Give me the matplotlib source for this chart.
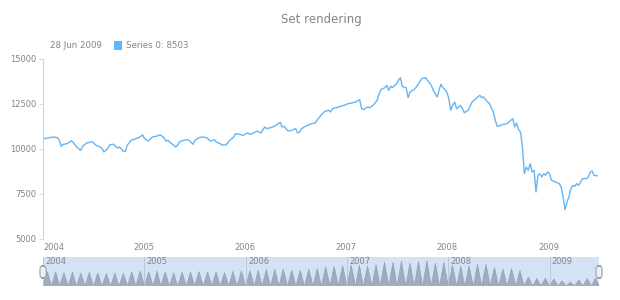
import numpy as np
import pandas as pd
import matplotlib
matplotlib.use("Agg")
import matplotlib.pyplot as plt
import matplotlib.dates as mdates
from matplotlib.patches import FancyBboxPatch

# weekly series (week index from 4 Jan 2004)
weeks = [0, 5, 7, 8, 9, 10, 12, 14, 15, 17, 19, 20, 22, 25, 27, 29, 30, 31, 33, 34,
         36, 38, 39, 41, 42, 43, 45, 47, 49, 51, 52, 54, 56, 58, 60, 62, 63, 64, 66, 68,
         69, 70, 72, 74, 75, 77, 78, 80, 82, 84, 86, 88, 89, 91, 92, 94, 96, 98, 99, 101,
         103, 105, 107, 110, 112, 114, 115, 117, 119, 121, 122, 123, 124, 126, 128, 130, 131, 132, 133, 135,
         136, 138, 140, 141, 143, 145, 147, 148, 149, 151, 153, 155, 157, 159, 161, 163, 164, 165, 167, 168,
         170, 172, 173, 174, 176, 177, 178, 179, 180, 181, 182, 183, 184, 185, 187, 188, 189, 191, 192, 194,
         195, 197, 198, 200, 201, 203, 204, 205, 206, 207, 208, 209, 210, 211, 212, 213, 214, 215, 216, 217,
         219, 220, 221, 222, 224, 225, 226, 227, 229, 230, 232, 233, 234, 236, 237, 239, 240, 241, 242, 243,
         244, 245, 246, 247, 248, 249, 250, 251, 252, 253, 254, 255, 256, 257, 258, 259, 260, 261, 262, 264,
         266, 267, 268, 269, 270, 271, 272, 273, 274, 275, 276, 277, 278, 280, 281, 282, 283, 284, 286]
values = [10574, 10666, 10629, 10481, 10148, 10259, 10296, 10444, 10389, 10111, 9926, 10148, 10333, 10407, 10203, 10111, 10055, 9833, 10018, 10240,
          10259, 10055, 10111, 9889, 9870, 10203, 10481, 10555, 10629, 10777, 10574, 10444, 10666, 10703, 10796, 10629, 10444, 10481, 10296, 10111,
          10203, 10389, 10481, 10518, 10481, 10259, 10481, 10629, 10666, 10629, 10444, 10518, 10389, 10296, 10222, 10222, 10481, 10666, 10852, 10815,
          10759, 10889, 10815, 11000, 10889, 11222, 11130, 11185, 11259, 11407, 11481, 11222, 11259, 11000, 11037, 11130, 10889, 10945, 11130, 11259,
          11315, 11407, 11444, 11592, 11870, 12092, 12148, 12055, 12241, 12296, 12370, 12426, 12518, 12555, 12611, 12741, 12241, 12185, 12333, 12296,
          12426, 12704, 13074, 13296, 13407, 13537, 13259, 13481, 13407, 13537, 13593, 13815, 13963, 13481, 13407, 12852, 13167, 13296, 13407, 13722,
          13907, 13963, 13815, 13537, 13259, 12889, 13296, 13593, 13407, 13296, 13167, 12796, 12148, 12426, 12611, 12241, 12333, 12426, 12241, 12018,
          12148, 12370, 12611, 12704, 12889, 12981, 12852, 12889, 12611, 12518, 12055, 11592, 11259, 11315, 11370, 11407, 11500, 11592, 11685, 11222,
          11444, 11074, 10945, 10111, 8629, 9000, 8815, 9185, 8722, 8815, 7611, 8537, 8629, 8444, 8629, 8537, 8722, 8629, 8259, 8167,
          8074, 7889, 7333, 6629, 7055, 7333, 7796, 7981, 7926, 8074, 7981, 8167, 8352, 8352, 8444, 8722, 8778, 8537, 8503]
years = [2004, 2005, 2006, 2007, 2008, 2009]
yticks = [5000, 7500, 10000, 12500, 15000]

start = pd.Timestamp("2004-01-04")
dates = pd.to_datetime([start + pd.Timedelta(weeks=w) for w in weeks])
year_starts = [pd.Timestamp(f"{y}-01-01") for y in years]
x0, x1 = pd.Timestamp("2004-01-01"), dates[-1]

txt = "#7c868e"
line_c = "#64b5f6"

fig = plt.figure(figsize=(6.2, 3.0), dpi=100)
fig.patch.set_facecolor("white")

ax = fig.add_axes([43 / 620, 1 - 239 / 300, 555 / 620, 180 / 300])
ax.plot(dates, values, color=line_c, lw=1.0)
ax.set_xlim(x0, x1)
ax.set_ylim(5000, 15000)
ax.set_yticks(yticks)
ax.set_yticklabels([str(v) for v in yticks])
ax.set_xticks(year_starts)
ax.set_xticklabels([str(y) for y in years])
ax.get_xticklabels()[0].set_horizontalalignment("left")
ax.tick_params(axis="x", length=0, pad=3, labelsize=6, labelcolor=txt)
ax.tick_params(axis="y", length=3, width=0.6, color="#cfd3d6", pad=2, labelsize=6, labelcolor=txt)
for sp in ["top", "right", "bottom"]:
    ax.spines[sp].set_visible(False)
ax.spines["left"].set_color("#cfd3d6")
ax.spines["left"].set_linewidth(0.8)

fig.text(321 / 620, 1 - 20 / 300, "Set rendering", ha="center", va="center", fontsize=8.5, color=txt)
fig.text(50 / 620, 1 - 46 / 300, f"{x1.day} {x1.strftime('%b %Y')}", ha="left", va="center",
         fontsize=6.2, color=txt)
fig.add_artist(FancyBboxPatch((114 / 620, 1 - 50 / 300), 8 / 620, 9 / 300, boxstyle="square,pad=0",
                              transform=fig.transFigure, fc=line_c, ec="none"))
fig.text(126 / 620, 1 - 46 / 300, f"Series 0: {values[-1]}", ha="left", va="center",
         fontsize=6.2, color=txt)

# scroller
sc = fig.add_axes([43 / 620, 1 - 286 / 300, 556 / 620, 29 / 300])
sc.set_facecolor("#d3e3f5")
s = pd.Series(values, index=dates).resample("MS").mean().dropna()
base = 6200
for m, v in s.items():
    t0 = mdates.date2num(m)
    t1 = mdates.date2num(min(m + pd.offsets.MonthBegin(1), x1 + pd.Timedelta(days=1)))
    xs = [t0, (t0 + t1) / 2, t1]
    sc.fill(xs + [xs[0]], [base, v, base, base], color="#9eacbd", ec="#8c9bad", lw=0.4)
for ys in year_starts:
    sc.axvline(ys, color="#b9c4cf", lw=0.6)
    sc.text(ys + pd.Timedelta(days=8), 14950, str(ys.year), ha="left", va="top", fontsize=6, color=txt)
sc.set_xlim(x0, x1)
sc.set_ylim(base, 15000)
sc.set_xticks([])
sc.set_yticks([])
for sp in sc.spines.values():
    sp.set_visible(False)
sc.axhline(base, color="#c9d0d8", lw=1)

for hx in (43, 599):
    fig.add_artist(FancyBboxPatch(((hx - 3) / 620, 1 - 278 / 300), 6 / 620, 12 / 300,
                                  boxstyle="round,pad=0,rounding_size=0.008",
                                  transform=fig.transFigure, fc="#eef0f2", ec="#9aa3ad", lw=0.8))

fig.savefig("out.png", dpi=100)
